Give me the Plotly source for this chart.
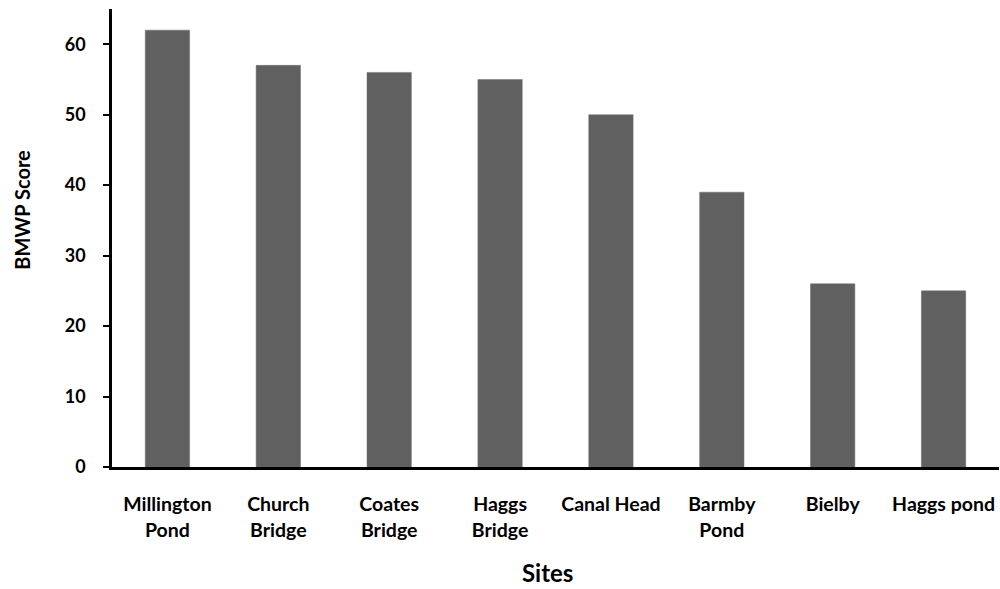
import plotly.graph_objects as go

sites = ["Millington<br>Pond", "Church<br>Bridge", "Coates<br>Bridge", "Haggs<br>Bridge",
         "Canal Head", "Barmby<br>Pond", "Bielby", "Haggs pond"]
scores = [62, 57, 56, 55, 50, 39, 26, 25]
y_ticks = [0, 10, 20, 30, 40, 50, 60]

FONT = "Lato"

fig = go.Figure(go.Bar(
    x=sites, y=scores,
    marker=dict(color="#606060", line=dict(color="#6e6e6e", width=0.5)),
))

fig.update_layout(
    width=1000, height=589,
    margin=dict(l=112, r=1, t=9, b=122),
    plot_bgcolor="white", paper_bgcolor="white",
    bargap=0.6,
    showlegend=False,
    font=dict(family=FONT, color="black"),
)
fig.update_xaxes(
    showline=True, linecolor="black", linewidth=2.5,
    ticks="", tickfont=dict(family=FONT, size=19.5, color="black", weight="bold"),
    ticklabelstandoff=18,
)
fig.update_yaxes(
    range=[0, 65], tickvals=y_ticks, showgrid=False, zeroline=False,
    showline=True, linecolor="black", linewidth=2.5,
    ticks="outside", ticklen=6, tickwidth=2, tickcolor="black",
    tickfont=dict(family=FONT, size=18, color="black", weight="bold"),
    ticklabelstandoff=14,
)
fig.add_annotation(text="<b>BMWP Score</b>", xref="paper", yref="paper",
                   x=-(112 - 22) / 887, y=(467.5 - 210) / 458.5,
                   xanchor="center", yanchor="middle",
                   textangle=-90, showarrow=False,
                   font=dict(family=FONT, size=20, color="black"))
fig.add_annotation(text="<b>Sites</b>", xref="paper", yref="paper",
                   x=(547 - 112) / 887, y=-(573 - 467.5) / 458.5,
                   xanchor="center", yanchor="middle", showarrow=False,
                   font=dict(family=FONT, size=24, color="black"))

fig.write_html("out.html", config={"displayModeBar": False},
               post_script="document.body.style.margin='0';document.body.style.overflow='hidden';")
